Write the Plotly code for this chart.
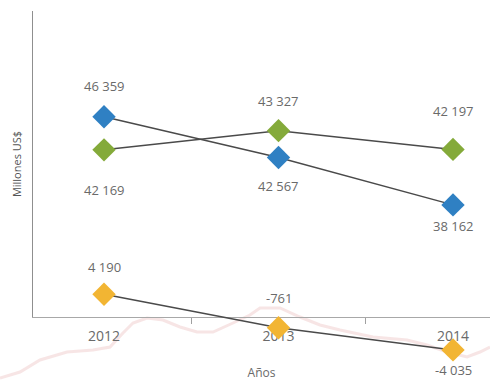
import plotly.graph_objects as go

# ---- data ----
years = [2012, 2013, 2014]
year_labels = ["2012", "2013", "2014"]
blue_vals = [46359, 42567, 38162]
green_vals = [42169, 43327, 42197]
yellow_vals = [4190, -761, -4035]

# ---- styles ----
BLUE = "#2f80c3"
GREEN = "#84aa3a"
YELLOW = "#f2b533"
LINE = "#4a4a4a"
TXT = "#6a6a6a"
FONT = "Open Sans"

blue_shift = [31, -28, -21]
green_shift = [-40, 30, 38]
yellow_shift = [27, 30, -20]

W, H = 490, 381
ML, MR, MT, MB = 33, 0, 11, 11
plot_h = H - MT - MB
axis_px = 317
p = (H - MB - axis_px) / plot_h

# x range so that categories fall at their places
x0, x1 = 2011.593, 2014.212


def fmt(v):
    return f"{v:,}".replace(",", " ")


fig = go.Figure()

series = [
    (blue_vals, BLUE, "y", blue_shift),
    (green_vals, GREEN, "y3", green_shift),
    (yellow_vals, YELLOW, "y2", yellow_shift),
]

for vals, col, yax, shifts in series:
    fig.add_trace(go.Scatter(
        x=years, y=vals, yaxis=yax, mode="lines+markers",
        line=dict(color=LINE, width=1.5),
        marker=dict(symbol="diamond", size=18, color=col, line=dict(width=0)),
        cliponaxis=False, showlegend=False, hoverinfo="skip",
    ))
    for xv, yv, s in zip(years, vals, shifts):
        fig.add_annotation(
            x=xv, y=yv, xref="x", yref=yax, text=fmt(yv), showarrow=False,
            yshift=s, font=dict(family=FONT, size=13, color=TXT),
        )

# decorative pale wave (background)
wave_px = [(0, 378), (20, 372), (40, 360), (67, 352), (93, 350), (110, 347),
           (123, 333), (133, 323), (147, 318), (163, 320), (180, 327),
           (197, 332), (213, 332), (233, 323), (250, 315), (260, 308),
           (280, 308), (300, 317), (320, 325), (340, 330), (373, 337),
           (407, 340), (427, 345), (447, 352), (467, 357), (480, 352),
           (490, 347)]
plot_w = W - ML - MR


def to_paper(px, py):
    return (px - ML) / plot_w, (H - MB - py) / plot_h


pts = [to_paper(a, b) for a, b in wave_px]
path = "M " + " L ".join(f"{a:.4f},{b:.4f}" for a, b in pts)
fig.add_shape(type="path", path=path, xref="paper", yref="paper",
              line=dict(color="rgba(225,150,150,0.25)", width=3), layer="below")

mids = [y + 0.5 for y in years[:-1]]

fig.update_layout(
    width=W, height=H,
    margin=dict(l=ML, r=MR, t=MT, b=MB, autoexpand=False),
    paper_bgcolor="white", plot_bgcolor="rgba(0,0,0,0)",
    font=dict(family=FONT, color=TXT),
    xaxis=dict(
        range=[x0, x1], anchor="y", automargin=False,
        tickmode="array", tickvals=years, ticktext=year_labels,
        ticks="", showline=True, linecolor="#a8a8a8", linewidth=1,
        showgrid=False, zeroline=False, ticklabelstandoff=6,
        tickfont=dict(family=FONT, size=14, color=TXT),
        title=dict(text="Años", font=dict(family=FONT, size=12, color=TXT), standoff=24),
        minor=dict(tickmode="array", tickvals=mids, ticks="outside",
                   ticklen=6, tickcolor="#a0a0a0", showgrid=False),
    ),
    yaxis=dict(
        domain=[p, 1], range=[27741, 56185], automargin=False,
        showline=True, linecolor="#8f8f8f", linewidth=1,
        showticklabels=False, ticks="", showgrid=False, zeroline=False,
        title=dict(text="Millones US$", font=dict(family=FONT, size=11, color="#555"),
                   standoff=8),
    ),
    yaxis3=dict(
        overlaying="y", range=[32100, 50534], visible=False,
    ),
    yaxis2=dict(
        domain=[0, 1], anchor="x", range=[-7000, 46000], visible=False,
    ),
)

fig.write_html(
    "out.html",
    config={"displayModeBar": False},
    post_script="document.body.style.margin='0';document.body.style.overflow='hidden';",
)
